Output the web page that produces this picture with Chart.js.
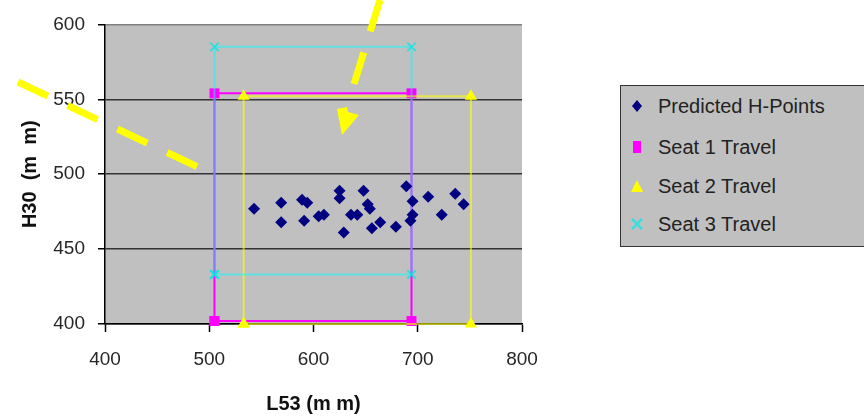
<!DOCTYPE html>
<html>
<head>
<meta charset="utf-8">
<script src="https://cdn.jsdelivr.net/npm/chart.js@4.4.0/dist/chart.umd.min.js"></script>
<style>
  body { margin: 0; background: #fff; overflow: hidden; }
  #wrap { position: relative; width: 864px; height: 419px; }
  #legend {
    position: absolute; left: 620px; top: 85px; width: 260px; height: 160px;
    background: #c0c0c0; border: 1px solid #333;
    font-family: Arial, 'Liberation Sans', sans-serif; font-size: 20px; color: #222;
  }
  .item { position: absolute; left: 0; width: 250px; height: 24px; line-height: 24px; }
  .item svg { position: absolute; left: 8px; top: 4px; }
  .item span { position: absolute; left: 37px; white-space: nowrap; }
</style>
</head>
<body>
<div id="wrap">
  <canvas id="chart"></canvas>
  <div id="legend"></div>
</div>
<script>
var seriesNames = ['Predicted H-Points', 'Seat 1 Travel', 'Seat 2 Travel', 'Seat 3 Travel']

// predicted H-points (L53, H30) in mm
var hpX = [543, 569, 569, 589, 594, 591, 605, 610, 625, 625, 629, 636, 642, 648, 652, 654, 656, 664, 679, 689, 695, 695, 693, 710, 723, 736, 744]
var hpY = [477, 481, 468, 483, 481, 469, 472, 473, 489, 484, 461, 473, 473, 489, 480, 477, 464, 468, 465, 492, 482, 473, 469, 485, 473, 487, 480]

// seat travel boxes, corner by corner
var seat1X = [505, 505, 694, 694, 505]
var seat1Y = [402, 554, 554, 402, 402]
var seat2X = [533, 533, 751, 751, 533]
var seat2Y = [400, 552, 552, 400, 400]
var seat3X = [505, 505, 694, 694, 505]
var seat3Y = [433, 585, 585, 433, 433]

var xTicks = [400, 500, 600, 700, 800]
var yTicks = [400, 450, 500, 550, 600]

function pts(xs, ys) {
  var out = []
  for (var i = 0; i < xs.length; i++) out.push({x: xs[i], y: ys[i]})
  return out
}

Chart.defaults.font.family = "Arial, 'Liberation Sans', sans-serif"

var plotBg = {
  id: 'plotBg',
  beforeDraw: function(chart) {
    var a = chart.chartArea
    var ctx = chart.ctx
    ctx.save()
    ctx.fillStyle = '#c0c0c0'
    ctx.fillRect(a.left, a.top, a.right - a.left, a.bottom - a.top)
    ctx.restore()
  }
}

// the yellow dashed pointers drawn over the picture
var pointers = {
  id: 'pointers',
  afterDraw: function(chart) {
    var ctx = chart.ctx
    ctx.save()
    ctx.strokeStyle = '#ffff00'
    ctx.fillStyle = '#ffff00'
    ctx.lineWidth = 7
    ctx.lineCap = 'butt'
    ctx.setLineDash([33, 22])
    ctx.beginPath()
    ctx.moveTo(18, 82)
    ctx.lineTo(200, 168)
    ctx.stroke()
    ctx.beginPath()
    ctx.moveTo(380, 0)
    ctx.lineTo(354, 84)
    ctx.stroke()
    ctx.setLineDash([])
    ctx.beginPath()
    ctx.moveTo(337, 109)
    ctx.lineTo(347, 107)
    ctx.lineTo(348, 112)
    ctx.lineTo(359, 115)
    ctx.lineTo(342, 135)
    ctx.closePath()
    ctx.fill()
    ctx.restore()
  }
}

var ctx = document.getElementById('chart').getContext('2d')

var chart = new Chart(ctx, {
  type: 'scatter',
  data: {
    datasets: [{
      label: seriesNames[0],
      data: pts(hpX, hpY),
      pointStyle: 'rectRot',
      pointRadius: 6,
      backgroundColor: '#000080',
      borderColor: '#000080',
      borderWidth: 0,
      order: 0,
      clip: false
    }, {
      label: seriesNames[1],
      data: pts(seat1X, seat1Y),
      showLine: true,
      pointStyle: 'rect',
      pointRadius: 7,
      backgroundColor: '#ff00ff',
      pointBorderWidth: 0,
      borderColor: '#ff00ff',
      borderWidth: 2,
      order: 3,
      clip: false
    }, {
      label: seriesNames[2],
      data: pts(seat2X, seat2Y),
      showLine: true,
      pointStyle: 'triangle',
      pointRadius: 7,
      backgroundColor: '#ffff00',
      pointBorderWidth: 0,
      borderColor: 'rgba(255,255,0,0.6)',
      borderWidth: 2,
      order: 2,
      clip: false
    }, {
      label: seriesNames[3],
      data: pts(seat3X, seat3Y),
      showLine: true,
      pointStyle: 'crossRot',
      pointRadius: 6,
      backgroundColor: 'rgba(0,255,255,0.6)',
      pointBorderColor: 'rgba(0,230,230,0.7)',
      pointBorderWidth: 2,
      borderColor: 'rgba(0,255,255,0.5)',
      borderWidth: 2,
      order: 1,
      clip: false
    }]
  },
  options: {
    responsive: true,
    maintainAspectRatio: false,
    animation: false,
    layout: { padding: { left: 0, top: 24, right: 342, bottom: 0 } },
    plugins: {
      legend: { display: false },
      tooltip: { enabled: false }
    },
    scales: {
      x: {
        type: 'linear',
        min: xTicks[0],
        max: xTicks[xTicks.length - 1],
        afterBuildTicks: function(s) { s.ticks = xTicks.map(function(v) { return {value: v} }) },
        afterFit: function(s) { s.height = 95 },
        ticks: { font: { size: 19 }, color: '#262626', padding: 16, maxRotation: 0 },
        grid: { drawOnChartArea: false, drawTicks: true, tickLength: 8, tickColor: '#000', tickWidth: 1.5 },
        border: { display: true, color: '#000', width: 1.5 },
        title: { display: true, text: 'L53 (m m)', color: '#111', font: { size: 20, weight: 'bold' }, padding: { top: 0, bottom: 3 } }
      },
      y: {
        type: 'linear',
        min: yTicks[0],
        max: yTicks[yTicks.length - 1],
        afterBuildTicks: function(s) { s.ticks = yTicks.map(function(v) { return {value: v} }) },
        afterFit: function(s) { s.width = 105 },
        ticks: { font: { size: 19 }, color: '#262626', padding: 13 },
        grid: {
          color: function(c) { return c.tick && c.tick.value === 600 ? '#808080' : '#333' },
          lineWidth: 1.5,
          drawTicks: true,
          tickLength: 7,
          tickColor: '#000',
          tickWidth: 1.5
        },
        border: { display: true, color: '#000', width: 1.5 },
        title: { display: true, text: 'H30  (m  m)', color: '#111', font: { size: 20, weight: 'bold' }, padding: { top: 18, bottom: 0 } }
      }
    }
  },
  plugins: [plotBg, pointers]
})

// legend box on the right, built from the same series names
var marks = [
  '<svg width="16" height="16"><polygon points="8,2 13,8 8,14 3,8" fill="#000080"/></svg>',
  '<svg width="16" height="16"><rect x="4" y="2" width="8" height="12" fill="#ff00ff"/></svg>',
  '<svg width="16" height="16"><polygon points="8,2 14,14 2,14" fill="#ffff00"/></svg>',
  '<svg width="16" height="16"><path d="M3,3 L13,13 M13,3 L3,13" stroke="#40dcdc" stroke-width="2.5"/></svg>'
]
var tops = [8, 49, 88, 126]
var html = ''
for (var i = 0; i < seriesNames.length; i++) {
  html += '<div class="item" style="top:' + tops[i] + 'px">' + marks[i] + '<span>' + seriesNames[i] + '</span></div>'
}
document.getElementById('legend').innerHTML = html
</script>
</body>
</html>
